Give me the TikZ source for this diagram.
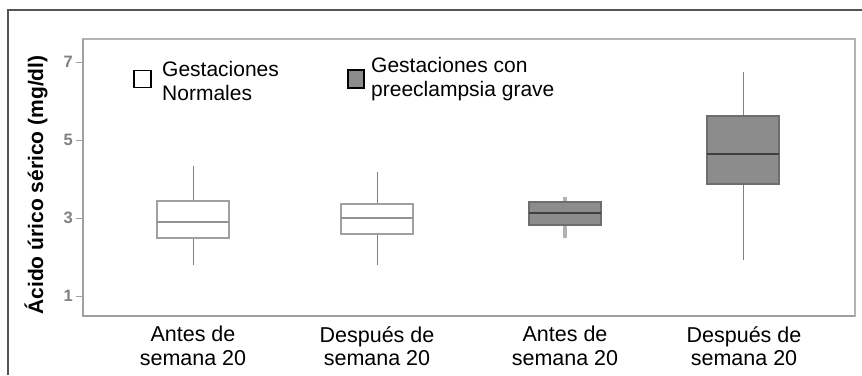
\documentclass[tikz,border=0pt]{standalone}
\usepackage{fontspec}
\setmainfont{Liberation Sans}
\usepackage{tikz}

\definecolor{framegray}{HTML}{555555}
\definecolor{plotgray}{HTML}{B4B4B4}
\definecolor{axisgray}{HTML}{A0A0A0}
\definecolor{boxfill}{HTML}{8C8C8C}
\definecolor{boxline}{HTML}{6E6E6E}

\tikzset{
    wbox/.style={draw=axisgray, fill=white, line width=1.4pt},
    gbox/.style={draw=boxline, fill=boxfill, line width=1.2pt},
    wmed/.style={draw=gray!85, line width=2pt},
    gmed/.style={draw=gray!50!black, line width=1.6pt},
    thinwhisk/.style={draw=gray, line width=0.9pt},
    fatwhisk/.style={draw=gray!60, line width=3.5pt},
    ticklabel/.style={text=gray, font=\bfseries\fontsize{16.5}{19}\selectfont, inner sep=0pt, anchor=east},
    catlabel/.style={font=\fontsize{21.5}{23.5}\selectfont, align=center, inner sep=0pt, anchor=north},
    legtext/.style={font=\fontsize{21}{24.5}\selectfont, align=left, inner sep=0pt, anchor=north west},
    legsq/.style={draw=black, line width=1.2pt, minimum width=17pt, minimum height=17pt, inner sep=0pt}
}

\begin{document}
\begin{tikzpicture}[x=1pt,y=-1pt]
	
            \useasboundingbox (0,0) rectangle (862,375);
            \draw[framegray, line width=1.6pt] (8,375) -- (8,10) -- (862,10);
	
            \draw[plotgray, line width=1.2pt] (83,39) rectangle (855,316);
            \draw[axisgray, line width=2pt] (83,39) -- (83,316) -- (855,316);
    
            \foreach \v in {1,3,5,7}
            {
                \draw[axisgray, line width=1pt] (76,{335-39*\v}) -- (83,{335-39*\v});
                \node[ticklabel] (tick\v) at (73,{335-39*\v}) {\v};
            }
	
            \node[rotate=90, font=\bfseries\fontsize{21}{25}\selectfont, inner sep=0pt] (ylab) at (36,185) {Ácido úrico sérico (mg/dl)};
    
            \foreach \cx/\lo/\qa/\me/\qb/\hi/\kind/\wk in {193/1.795/2.487/2.897/3.436/4.333/w/thinwhisk, 377/1.795/2.59/3.0/3.359/4.18/w/thinwhisk, 565/2.487/2.82/3.128/3.41/3.54/g/fatwhisk, 743/1.923/3.872/4.641/5.615/6.744/g/thinwhisk}
            {
                \draw[\wk] (\cx,{335-39*\lo}) -- (\cx,{335-39*\hi});
                \draw[\kind box] (\cx-36,{335-39*\qa}) rectangle (\cx+36,{335-39*\qb});
                \draw[\kind med] (\cx-36,{335-39*\me}) -- (\cx+36,{335-39*\me});
            }
    
            \node[catlabel] (cat1) at (193,326) {Antes de\\semana 20};
            \node[catlabel] (cat2) at (377,326) {Después de\\semana 20};
            \node[catlabel] (cat3) at (565,326) {Antes de\\semana 20};
            \node[catlabel] (cat4) at (744,326) {Después de\\semana 20};
	
            \node[legsq, fill=white] (legw) at (142.5,79) {};
            \node[legtext] (legwt) at (162,61) {Gestaciones\\Normales};
            \node[legsq, fill=boxfill, minimum width=16pt, minimum height=18pt] (legg) at (356,79) {};
            \node[legtext] (leggt) at (371,57) {Gestaciones con\\preeclampsia grave};
        \end{tikzpicture}
\end{document}
